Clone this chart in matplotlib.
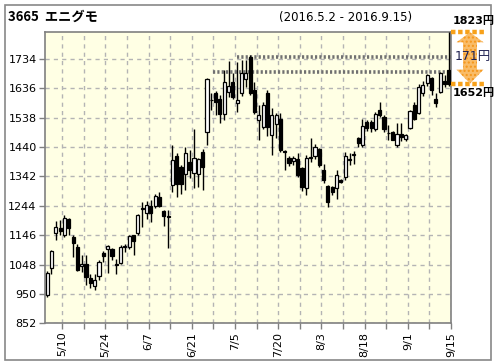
import matplotlib
matplotlib.use("Agg")
import matplotlib.pyplot as plt
from matplotlib.patches import Polygon
from matplotlib.transforms import IdentityTransform, blended_transform_factory
import numpy as np
import pandas as pd

# ---- data ----
holidays = ["2016-05-03", "2016-05-04", "2016-05-05", "2016-07-18", "2016-08-11"]
dates = [d for d in pd.bdate_range("2016-05-02", "2016-09-15") if d.strftime("%Y-%m-%d") not in holidays]

opens = [945, 1038, 1153, 1171, 1146, 1199, 1140, 1107, 1042, 1051,
         1003, 977, 1009, 1088, 1100, 1101, 1046, 1053, 1108, 1105,
         1146, 1152, 1232, 1220, 1245, 1243, 1272, 1227, 1210, 1313,
         1410, 1375, 1349, 1391, 1352, 1349, 1424, 1491, 1598, 1621,
         1599, 1552, 1624, 1658, 1588, 1621, 1666, 1741, 1632, 1532,
         1507, 1621, 1480, 1516, 1535, 1426, 1405, 1394, 1400, 1369,
         1302, 1404, 1410, 1432, 1363, 1309, 1307, 1302, 1329, 1341,
         1398, 1415, 1469, 1446, 1524, 1524, 1499, 1563, 1541, 1486,
         1490, 1447, 1483, 1467, 1505, 1580, 1553, 1620, 1653, 1670,
         1600, 1623, 1661, 1698]
highs = [1025, 1097, 1192, 1196, 1212, 1202, 1148, 1115, 1079, 1079,
         1015, 1018, 1062, 1092, 1113, 1103, 1068, 1112, 1118, 1148,
         1148, 1216, 1257, 1260, 1263, 1282, 1290, 1230, 1229, 1446,
         1420, 1380, 1441, 1430, 1499, 1405, 1435, 1670, 1621, 1628,
         1613, 1697, 1728, 1687, 1725, 1730, 1730, 1747, 1658, 1580,
         1590, 1630, 1569, 1555, 1553, 1430, 1410, 1410, 1419, 1372,
         1413, 1469, 1450, 1436, 1385, 1312, 1310, 1363, 1335, 1424,
         1421, 1427, 1472, 1535, 1530, 1530, 1556, 1591, 1548, 1514,
         1495, 1520, 1520, 1485, 1565, 1590, 1650, 1660, 1685, 1675,
         1620, 1690, 1680, 1823]
lows = [940, 1015, 1129, 1148, 1140, 1146, 1073, 1025, 1023, 979,
        971, 962, 995, 1057, 1020, 1062, 1018, 1050, 1090, 1100,
        1079, 1148, 1174, 1201, 1190, 1238, 1240, 1176, 1103, 1290,
        1274, 1283, 1296, 1336, 1305, 1307, 1296, 1446, 1565, 1546,
        1521, 1530, 1608, 1600, 1557, 1610, 1641, 1615, 1550, 1465,
        1500, 1476, 1413, 1470, 1425, 1363, 1376, 1380, 1340, 1295,
        1279, 1390, 1400, 1375, 1320, 1240, 1280, 1268, 1320, 1329,
        1380, 1385, 1440, 1440, 1495, 1490, 1495, 1540, 1490, 1464,
        1464, 1440, 1460, 1460, 1500, 1530, 1550, 1610, 1645, 1615,
        1575, 1620, 1640, 1645]
closes = [1021, 1093, 1174, 1160, 1205, 1171, 1120, 1029, 1051, 1005,
          988, 995, 1057, 1077, 1109, 1077, 1050, 1105, 1111, 1143,
          1127, 1213, 1236, 1246, 1220, 1278, 1243, 1210, 1208, 1396,
          1318, 1318, 1419, 1363, 1402, 1400, 1372, 1666, 1596, 1591,
          1552, 1658, 1643, 1608, 1597, 1686, 1686, 1621, 1557, 1546,
          1580, 1507, 1546, 1546, 1430, 1423, 1387, 1405, 1346, 1307,
          1402, 1406, 1441, 1380, 1329, 1257, 1290, 1346, 1324, 1410,
          1400, 1417, 1452, 1510, 1505, 1505, 1550, 1546, 1502, 1488,
          1464, 1483, 1472, 1481, 1559, 1535, 1642, 1646, 1679, 1631,
          1586, 1687, 1650, 1652]

y_ticks = [852, 950, 1048, 1146, 1244, 1342, 1440, 1538, 1636, 1734]
x_label_dates = ["5/10", "5/24", "6/7", "6/21", "7/5", "7/20", "8/3", "8/18", "9/1", "9/15"]

resist_levels = [1740, 1690]
resist_start = [44, 38.5]

title_code = "3665"
title_name = "エニグモ"
period_text = "(2016.5.2 - 2016.9.15)"
top_price = 1823
last_price = 1652

# ---- figure ----
W, H = 496, 364
fig = plt.figure(figsize=(W / 100, H / 100), dpi=100)
fig.patch.set_facecolor("white")

def fx(px):
    return px / W

def fy(py):
    return 1 - py / H

ax = fig.add_axes([fx(45), fy(323.3), fx(451) - fx(45), fy(32.3) - fy(323.3)])
ax.set_facecolor("#FFFFE4")

n = len(opens)
idx = np.arange(n)
o = np.array(opens); c = np.array(closes); h = np.array(highs); l = np.array(lows)
up = c >= o

ax.vlines(idx, l, h, color="black", lw=1.0, zorder=3)
body_lo = np.minimum(o, c)
body_h = np.abs(c - o)
ax.bar(idx[up], body_h[up], bottom=body_lo[up], width=0.72, facecolor="white",
       edgecolor="black", lw=0.9, zorder=4)
ax.bar(idx[~up], body_h[~up], bottom=body_lo[~up], width=0.72, facecolor="black",
       edgecolor="black", lw=0.9, zorder=4)

# resistance lines (dotted bands)
for lev, st in zip(resist_levels, resist_start):
    ax.hlines(lev, st, n - 0.5, colors="#707070", lw=2.6, linestyles=(0, (0.6, 0.6)), zorder=2)

ax.set_xlim(-0.5, n - 0.5)
ax.set_ylim(852, top_price)

# ticks
date_strs = [f"{d.month}/{d.day}" for d in dates]
lab_idx = [date_strs.index(s) for s in x_label_dates]
minor_idx = [i for i in range(lab_idx[0] % 5, n, 5)]
ax.set_xticks([i + 0.5 for i in minor_idx])
ax.set_xticklabels([date_strs[i] if i in lab_idx else "" for i in minor_idx],
                   rotation=90, fontsize=8)
ax.set_yticks(y_ticks)
ax.set_yticklabels([str(v) for v in y_ticks], fontsize=8)
ax.tick_params(axis="both", colors="#808080", labelcolor="black", length=4, width=1)
ax.tick_params(axis="x", pad=2)
ax.tick_params(axis="y", pad=2)

ax.grid(True, color="#B4B4B4", lw=1, linestyle=(0, (3, 3)))
ax.set_axisbelow(True)
for sp in ax.spines.values():
    sp.set_color("#808080")
    sp.set_linewidth(1.2)

# outer border
fig.add_artist(plt.Rectangle((fx(5), fy(359.5)), fx(491) - fx(5), fy(5) - fy(359.5),
                             transform=fig.transFigure, fill=False, edgecolor="#888888", lw=1.2))

# titles
fig.text(fx(8), fy(17), title_code + "  " + title_name, fontsize=9.5, fontweight="bold",
         family=["Noto Sans CJK JP", "DejaVu Sans"], va="center", ha="left")
fig.text(fx(346), fy(18), period_text, fontsize=8.5, va="center", ha="center")

# right side annotation: double arrow from last price to top price
fig.canvas.draw()
y_top = ax.transData.transform((0, top_price))[1]
y_bot = ax.transData.transform((0, last_price))[1]
x_right = ax.transAxes.transform((1, 0))[0]
xc = x_right + 19
shaft, headw, headl = 7, 13.5, 10
verts = [(xc, y_top), (xc + headw, y_top - headl), (xc + shaft, y_top - headl),
         (xc + shaft, y_bot + headl + 4), (xc + headw, y_bot + headl + 4), (xc, y_bot),
         (xc - headw, y_bot + headl + 4), (xc - shaft, y_bot + headl + 4),
         (xc - shaft, y_top - headl), (xc - headw, y_top - headl)]
arrow = Polygon(verts, closed=True, transform=IdentityTransform(), facecolor="#F9BC68",
                edgecolor="#F5961A", hatch="....", lw=0, zorder=5)
fig.add_artist(arrow)

trans = blended_transform_factory(ax.transAxes, ax.transData)
for p in (top_price, last_price):
    ax.plot([1.0, 1.085], [p, p], transform=trans, color="#F7A11A", lw=3.2,
            linestyle=(0, (1, 0.6)), clip_on=False, solid_capstyle="butt", zorder=6)

fp = ["DejaVu Sans", "Noto Sans CJK JP"]
fig.text(x_right + 2, y_top + 6, f"{top_price}円", transform=IdentityTransform(), fontsize=8,
         fontweight="bold", family=fp, va="bottom", ha="left", zorder=10)
fig.text(x_right + 4, (y_top + y_bot) / 2 + 1, f"{top_price - last_price}円",
         transform=IdentityTransform(), fontsize=9, color="#1E2050", family=fp,
         va="center", ha="left", zorder=10)
fig.text(x_right + 2, y_bot - 4, f"{last_price}円", transform=IdentityTransform(), fontsize=8,
         fontweight="bold", family=fp, va="top", ha="left", zorder=10)

fig.savefig("out.png", dpi=100)
